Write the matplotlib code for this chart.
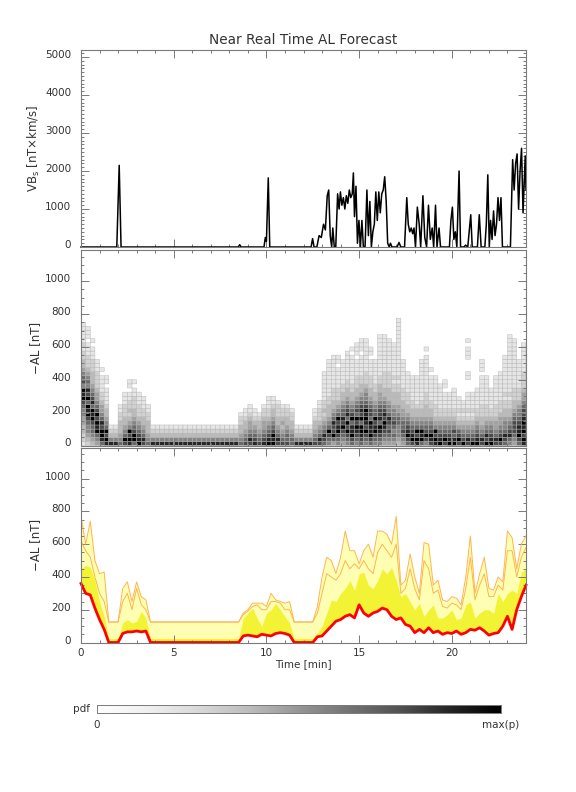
import matplotlib

matplotlib.use("Agg")
import matplotlib.colors
import matplotlib.pyplot
import matplotlib.ticker
import matplotlib.transforms
import numpy

# VBs solar-wind driver, break points
TIME_VB = [
    0.0, 1.93, 2.06, 2.16, 8.48, 8.56, 8.63, 9.87, 9.94, 10.0, 10.1, 10.18,
    12.41, 12.49, 12.57, 12.72, 12.84, 12.96, 13.08, 13.18, 13.28, 13.36, 13.44,
    13.52, 13.58, 13.66, 13.74, 13.84, 13.92, 13.99, 14.07, 14.15, 14.23, 14.31,
    14.39, 14.47, 14.55, 14.63, 14.69, 14.75, 14.83, 14.91, 14.99, 15.07, 15.15,
    15.23, 15.32, 15.42, 15.50, 15.58, 15.66, 15.74, 15.82, 15.90, 15.98, 16.06,
    16.14, 16.22, 16.30, 16.38, 16.46, 16.54, 16.62, 16.69, 16.77, 17.05, 17.15,
    17.25, 17.45, 17.57, 17.65, 17.73, 17.81, 17.89, 17.96, 18.04, 18.14, 18.24,
    18.32, 18.44, 18.54, 18.64, 18.74, 18.84, 18.94, 19.02, 19.12, 19.20, 19.31,
    19.39, 19.87, 19.95, 20.03, 20.11, 20.19, 20.27, 20.39, 20.47, 20.66, 20.74,
    20.86, 21.02, 21.10, 21.38, 21.48, 21.58, 21.78, 21.86, 21.94, 22.02, 22.09,
    22.17, 22.25, 22.33, 22.41, 22.49, 22.57, 22.65, 22.73, 23.16, 23.28, 23.36,
    23.44, 23.52, 23.60, 23.68, 23.76, 23.84, 23.96, 24.0,
]
VB_S = [
    0, 0, 2150, 0, 0, 60, 0, 0, 250, 150, 1820, 0,
    0, 220, 0, 0, 300, 250, 600, 450, 1350, 1500, 300,
    0, 500, 0, 0, 1400, 1000, 1450, 1100, 1300, 1000, 1350,
    1150, 1500, 1300, 1400, 1950, 800, 1600, 100, 700, 0, 700,
    0, 0, 1500, 300, 1200, 0, 400, 600, 1450, 700, 1450,
    900, 1400, 1500, 1850, 1200, 100, 0, 100, 0, 0, 120,
    0, 0, 1300, 600, 400, 500, 350, 500, 0, 1050, 600,
    0, 1350, 250, 0, 1100, 200, 500, 0, 1100, 0, 500,
    0, 0, 700, 1050, 200, 400, 0, 2000, 0, 0, 50,
    0, 850, 0, 0, 850, 0, 0, 600, 1900, 0, 700,
    200, 950, 300, 600, 1300, 700, 1300, 0, 0, 2300, 1500,
    2200, 2450, 1000, 2000, 2600, 900, 2400, 1500,
]

# -AL forecast quantiles on a 0.25 min grid (0 .. 24 min, 97 samples)
AL_LOW = [
    360, 300, 290, 210, 140, 80,
    0, 0, 0,
    55, 65, 65, 70, 65, 70,
    0, 0, 0, 0, 0, 0, 0, 0, 0, 0, 0, 0, 0, 0, 0, 0, 0, 0, 0, 0,
    40, 45, 40, 35, 50, 45, 40, 55, 60, 55, 45,
    0, 0, 0, 0, 0,
    35, 40, 70, 100, 130, 140, 160, 170, 150, 230, 180, 160, 180, 190, 210,
    200, 160, 140, 150, 110, 100, 60, 80, 60, 90, 60, 70, 50, 60, 55,
    70, 50, 60, 80, 75, 90, 70, 45, 55, 60, 100, 160, 80, 200, 280, 350,
]
AL_MID = [
    450, 470, 460, 380, 250, 160,
    25, 25, 25,
    120, 140, 120, 130, 190, 150,
    25, 25, 25, 25, 25, 25, 25, 25, 25, 25, 25, 25, 25, 25, 25, 25, 25, 25, 25, 25,
    150, 180, 210, 150, 100, 180, 200, 240, 200, 160, 120,
    25, 25, 25, 25, 25,
    60, 100, 180, 260, 250, 300, 330, 380, 320, 420, 430, 350, 330, 380, 450,
    420, 460, 380, 280, 300, 250, 200, 240, 160, 200, 230, 150, 150, 170, 200,
    140, 150, 230, 250, 150, 180, 200, 200, 180, 300, 250, 300, 320, 300, 430, 450,
]
AL_UPPER = [
    620, 560, 520, 400, 300, 250,
    125, 125, 125,
    250, 300, 200, 330, 230, 200,
    125, 125, 125, 125, 125, 125, 125, 125, 125, 125, 125, 125, 125, 125, 125,
    125, 125, 125, 125, 125,
    170, 190, 220, 230, 200, 200, 250, 250, 240, 200, 200,
    125, 125, 125, 125, 125,
    180, 300, 420, 400, 380, 420, 500, 450, 480, 450, 500, 450, 420, 550, 600,
    560, 520, 600, 300, 330, 450, 330, 260, 500, 450, 300, 320, 220, 210, 240,
    230, 200, 330, 520, 260, 350, 420, 280, 280, 350, 320, 560, 560, 400, 520, 580,
]
AL_MAX = [
    770, 600, 740, 500, 420, 430,
    125, 125, 125,
    330, 370, 250, 370, 280, 260,
    125, 125, 125, 125, 125, 125, 125, 125, 125, 125, 125, 125, 125, 125, 125,
    125, 125, 125, 125, 125,
    180, 200, 240, 240, 240, 220, 300, 260, 250, 240, 250,
    125, 125, 125, 125, 125,
    220, 400, 520, 500, 420, 520, 680, 560, 560, 480, 560, 600, 520, 680, 680,
    660, 600, 770, 350, 380, 540, 400, 300, 610, 600, 350, 380, 260, 250, 280,
    270, 230, 400, 650, 300, 420, 520, 330, 320, 400, 370, 680, 640, 450, 600, 650,
]

# probability map: one string per 0.25 min column, one digit (0-9) per 25 nT bin,
# read from the bottom (0 nT) upwards
BAND = "85321"
PDF_COLUMNS = (
    [
        "1223 3445 5679 8957 6543 3221 2111 11",
        "2345 5679 8969 7856 5432 2211 1011 1",
        "3456 6798 9687 6543 3322 2111 01",
        "4569 8979 7654 4322 2211 1",
        "6899 7865 4432 2111 101",
        "8979 6543 3211 1101 1",
        "85321",
        "85321",
        "6543 3322 11",
        "7965 4332 2211 1",
        "8979 5432 3221 1011",
        "6997 6543 3222 1101",
        "9876 5432 2211 1",
        "7865 4332 2111",
        "6543 3322 11",
    ]
    + [BAND] * 19
    + [
        "6543 3221",
        "7654 3321 1",
        "7865 4432 11",
        "8765 4321 1",
        "7654 3321",
        "8765 4432 21",
        "9876 5432 2111",
        "9897 6543 3211",
        "7865 4332 221",
        "7654 3432 21",
        "7665 4332 21",
        "6654 3322 1",
    ]
    + [BAND] * 4
    + [
        "7654 3321 1",
        "7865 4322 211",
        "6786 5432 3221 1111 11",
        "5679 6543 3322 1111 1111 1",
        "4697 7865 4332 2211 1111 11",
        "5679 8796 5432 2211 1110 11",
        "4567 9786 6543 3221 1111 1",
        "5679 7968 7654 3322 1111 111",
        "6798 8697 6543 3221 1111 1101",
        "5678 9796 7654 3322 2111 1011 1",
        "6789 9697 8765 4332 2111 1101 11",
        "5679 7898 9765 5432 2211 1111 11",
        "6798 8967 7654 3322 2111 1011",
        "5679 8796 6543 3221 1111 1",
        "5678 9687 7654 4332 2111 1111 111",
        "4567 8978 7654 3322 2211 1111 111",
        "4567 6786 5543 3322 2211 1111 11",
        "4565 6765 5433 3221 2111 1111 1",
        "3455 5665 4433 3221 2111 1111 1111 111",
        "4567 6654 4332 2211 1111 1",
        "6798 7654 3322 2111 11",
        "7987 6543 3221 1111 1",
        "8979 6543 3211 1111 1",
        "6989 6543 3221 1111 1111 1",
        "5797 6543 3322 2111 1111 1101",
        "7897 6543 3221 1111 101",
        "8979 5432 2211 1111 1",
        "9876 5432 2111 111",
        "7976 5432 2111 1011",
        "9876 5432 2111 1",
        "9867 5432 2111 11",
        "7976 4321 2111",
        "9765 4321 211",
        "7865 4321 2111 1000 1100 0111 01",
        "9765 4321 2111 1",
        "9876 5432 2111 11",
        "7865 4332 2211 1111 1011 1",
        "9786 5432 2211 1111 1",
        "9876 5432 2111 11",
        "7865 4432 2211 1111 1",
        "7976 5443 2221 1111 11",
        "6786 5543 3221 2111 1111 11",
        "5687 6543 3221 2111 1111 1111 111",
        "4567 7765 4332 2211 1111 1111 11",
        "6798 8765 5432 2211 1111 1",
        "8979 8987 7654 4322 2211 1111 1",
    ]
)
PDF_BIN_NT = 25
PDF_NBINS = 32

AXIS_GREY = "#7a7a7a"
TEXT_GREY = "#333333"
# grey level drawn for each probability digit 1..9
PDF_GREYS = [0.9, 0.82, 0.73, 0.63, 0.52, 0.41, 0.29, 0.15, 0.0]


def style_axes(fig, ax, ylim, ymajor, yminor):
    ax.set_xlim(0, 24)
    ax.set_ylim(*ylim)
    ax.xaxis.set_major_locator(matplotlib.ticker.MultipleLocator(5))
    ax.xaxis.set_minor_locator(matplotlib.ticker.MultipleLocator(1))
    ax.yaxis.set_major_locator(matplotlib.ticker.MultipleLocator(ymajor))
    ax.yaxis.set_minor_locator(matplotlib.ticker.MultipleLocator(yminor))
    ax.tick_params(
        which="both",
        direction="in",
        top=True,
        right=True,
        color=AXIS_GREY,
        labelcolor=TEXT_GREY,
        labelsize=7.5,
        width=0.7,
    )
    ax.tick_params(which="major", length=5.5)
    ax.tick_params(which="minor", length=2.5)
    ax.tick_params(axis="x", pad=4)
    ax.tick_params(axis="y", pad=7)
    for s in ax.spines.values():
        s.set_color(AXIS_GREY)
        s.set_linewidth(0.8)
    # IDL puts its y labels a little above the tick
    shift = matplotlib.transforms.ScaledTranslation(0, 0.03, fig.dpi_scale_trans)
    for lbl in ax.get_yticklabels():
        lbl.set_transform(lbl.get_transform() + shift)
    ax.yaxis.set_label_coords(-0.087, 0.5)


def make_plot():
    fig = matplotlib.pyplot.figure(figsize=(5.76, 7.92), dpi=100)
    left, width = 81 / 576, 445 / 576
    ax1 = fig.add_axes([left, 1 - 247 / 792, width, 197.5 / 792])
    ax2 = fig.add_axes([left, 1 - 445.5 / 792, width, 195.5 / 792])
    ax3 = fig.add_axes([left, 1 - 642.5 / 792, width, 195 / 792])

    # top: driver
    ax1.plot(TIME_VB, VB_S, color="black", linewidth=1.1, clip_on=False)
    ax1.set_ylabel("VB$_\\mathregular{s}$ [nT×km/s]", fontsize=8.5, color=TEXT_GREY)
    style_axes(fig, ax1, (0, 5200), 1000, 100)
    ax1.tick_params(labelbottom=False)

    # middle: probability map
    pdf = numpy.zeros((PDF_NBINS, len(PDF_COLUMNS)))
    for c, col in enumerate(PDF_COLUMNS):
        for r, ch in enumerate("".join(col.split())):
            pdf[r, c] = int(ch)
    cmap = matplotlib.colors.ListedColormap([(g, g, g) for g in PDF_GREYS])
    x_edges = numpy.linspace(0, 24, len(PDF_COLUMNS) + 1)
    y_edges = numpy.arange(PDF_NBINS + 1) * PDF_BIN_NT
    ax2.pcolor(
        x_edges,
        y_edges,
        numpy.ma.masked_equal(pdf, 0),
        cmap=cmap,
        vmin=0.5,
        vmax=9.5,
        edgecolors=(0.7, 0.7, 0.7),
        linewidth=0.3,
    )
    ax2.set_ylabel("−AL [nT]", fontsize=8.5, color=TEXT_GREY)
    style_axes(fig, ax2, (0, 1190), 200, 50)
    ax2.tick_params(labelbottom=False)

    # bottom: quantile bands
    t = numpy.linspace(0, 24, len(AL_LOW))
    ax3.fill_between(t, AL_MID, AL_MAX, color="#ffffb4", linewidth=0)
    ax3.fill_between(t, AL_LOW, AL_MID, color="#f3f336", linewidth=0)
    ax3.plot(t, AL_UPPER, color="#ffb450", linewidth=0.7)
    ax3.plot(t, AL_MAX, color="#ffb450", linewidth=0.7)
    ax3.plot(t, AL_LOW, color="#ff0000", linewidth=2.0, clip_on=False)
    ax3.set_ylabel("−AL [nT]", fontsize=8.5, color=TEXT_GREY)
    style_axes(fig, ax3, (0, 1190), 200, 50)
    ax3.set_xlabel("Time [min]", fontsize=7.5, color=TEXT_GREY, labelpad=1)

    fig.text(303.5 / 576, 1 - 40 / 792, "Near Real Time AL Forecast",
             ha="center", va="center", fontsize=9.8, color=TEXT_GREY)

    # colour bar for the probability map
    cax = fig.add_axes([97 / 576, 1 - 712.7 / 792, 404 / 576, 8 / 792])
    cax.imshow(numpy.linspace(0, 1, 256)[None, :], aspect="auto", cmap="Greys",
               extent=[0, 1, 0, 1])
    cax.set_xticks([])
    cax.set_yticks([])
    for s in cax.spines.values():
        s.set_color(AXIS_GREY)
        s.set_linewidth(0.7)
    fig.text(90 / 576, 1 - 709 / 792, "pdf", ha="right", va="center",
             fontsize=7.5, color=TEXT_GREY)
    fig.text(97 / 576, 1 - 725 / 792, "0", ha="center", va="center",
             fontsize=7.5, color=TEXT_GREY)
    fig.text(501 / 576, 1 - 725 / 792, "max(p)", ha="center", va="center",
             fontsize=7.5, color=TEXT_GREY)

    fig.savefig("out.png", dpi=100)


if __name__ == "__main__":
    make_plot()
